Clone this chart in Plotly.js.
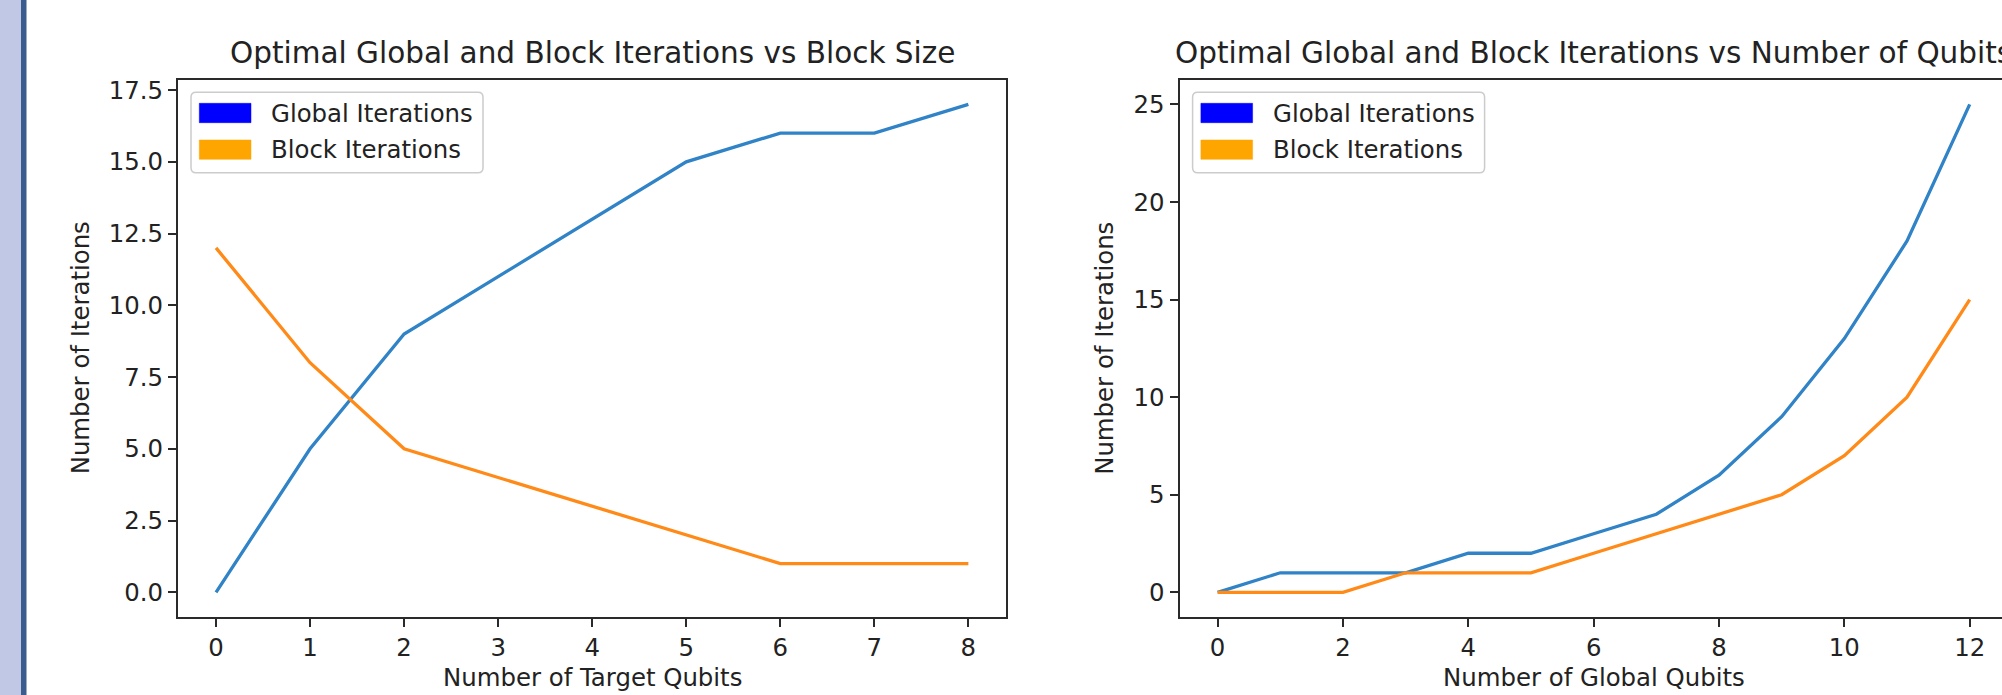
<!DOCTYPE html>
<html>
<head>
<meta charset="utf-8">
<script src="https://cdn.plot.ly/plotly-3.0.1.min.js"></script>
<style>html,body{margin:0;padding:0;background:#fff;}#chart{width:2002px;height:695px;}</style>
</head>
<body>
<div id="chart"></div>
<script>
// ---- data ----
const targetQubits = [0, 1, 2, 3, 4, 5, 6, 7, 8];
const globalItersBySize = [0, 5, 9, 11, 13, 15, 16, 16, 17];
const blockItersBySize = [12, 8, 5, 4, 3, 2, 1, 1, 1];

const globalQubits = [0, 1, 2, 3, 4, 5, 6, 7, 8, 9, 10, 11, 12];
const globalItersByQubits = [0, 1, 1, 1, 2, 2, 3, 4, 6, 9, 13, 18, 25];
const blockItersByQubits = [0, 0, 0, 1, 1, 1, 2, 3, 4, 5, 7, 10, 15];

const title1 = 'Optimal Global and Block Iterations vs Block Size';
const title2 = 'Optimal Global and Block Iterations vs Number of Qubits';
const xLabel1 = 'Number of Target Qubits';
const xLabel2 = 'Number of Global Qubits';
const yLabel = 'Number of Iterations';
const legendLabels = ['Global Iterations', 'Block Iterations'];
const legendColors = ['#0000ff', '#ffa500'];
const lineColors = ['#2f83c6', '#ff8a17'];

// ---- layout helpers (pixel -> paper) ----
const W = 2002, H = 695;
const px = x => x / W;
const py = y => 1 - y / H;
const FONT = 'DejaVu Sans, sans-serif';
const TXT = '#222222';

const ax1 = {l: 178.4, r: 1006, t: 80, b: 616.7};
const ax2 = {l: 1180, r: 2007.3, t: 80, b: 616.7};

const traces = [
  {x: targetQubits, y: globalItersBySize, xaxis: 'x', yaxis: 'y', mode: 'lines',
   line: {color: lineColors[0], width: 3.3}, showlegend: false, hoverinfo: 'x+y'},
  {x: targetQubits, y: blockItersBySize, xaxis: 'x', yaxis: 'y', mode: 'lines',
   line: {color: lineColors[1], width: 3.3}, showlegend: false, hoverinfo: 'x+y'},
  {x: globalQubits, y: globalItersByQubits, xaxis: 'x2', yaxis: 'y2', mode: 'lines',
   line: {color: lineColors[0], width: 3.3}, showlegend: false, hoverinfo: 'x+y'},
  {x: globalQubits, y: blockItersByQubits, xaxis: 'x2', yaxis: 'y2', mode: 'lines',
   line: {color: lineColors[1], width: 3.3}, showlegend: false, hoverinfo: 'x+y'}
];

const commonAxis = {
  showgrid: false, zeroline: false, showline: true, linecolor: '#2a2a2a', linewidth: 2,
  ticks: 'outside', ticklen: 8.5, tickwidth: 2, tickcolor: '#2a2a2a',
  tickfont: {family: FONT, size: 24.4, color: TXT}
};

// right axis data range cut at the page edge (axes extends past it)
const unit2 = (ax2.r - ax2.l) / 13.2;
const x2max = -0.6 + (W - ax2.l) / unit2;

const shapes = [
  // left window border of the screenshot
  {type: 'rect', xref: 'paper', yref: 'paper', x0: 0, x1: px(21), y0: 0, y1: 1,
   fillcolor: '#c1c8e6', line: {width: 0}, layer: 'below'},
  {type: 'rect', xref: 'paper', yref: 'paper', x0: px(21), x1: px(26.5), y0: 0, y1: 1,
   fillcolor: '#3b5d8e', line: {width: 0}, layer: 'below'}
];
const annotations = [];

function roundRectPath(x0, y0, x1, y1, r) {
  const X = v => px(v), Y = v => py(v);
  return `M ${X(x0 + r)} ${Y(y0)} L ${X(x1 - r)} ${Y(y0)} Q ${X(x1)} ${Y(y0)} ${X(x1)} ${Y(y0 + r)} ` +
         `L ${X(x1)} ${Y(y1 - r)} Q ${X(x1)} ${Y(y1)} ${X(x1 - r)} ${Y(y1)} ` +
         `L ${X(x0 + r)} ${Y(y1)} Q ${X(x0)} ${Y(y1)} ${X(x0)} ${Y(y1 - r)} ` +
         `L ${X(x0)} ${Y(y0 + r)} Q ${X(x0)} ${Y(y0)} ${X(x0 + r)} ${Y(y0)} Z`;
}

function addLegend(dx) {
  shapes.push({type: 'path', xref: 'paper', yref: 'paper',
    path: roundRectPath(191 + dx, 92.3, 483 + dx, 172.7, 5),
    fillcolor: 'rgba(255,255,255,0.8)', line: {color: '#cccccc', width: 1.5}});
  const rows = [[103.3, 122.7], [140, 159.3]];
  rows.forEach((r, i) => {
    shapes.push({type: 'rect', xref: 'paper', yref: 'paper',
      x0: px(199.3 + dx), x1: px(251 + dx), y0: py(r[1]), y1: py(r[0]),
      fillcolor: legendColors[i], line: {color: legendColors[i], width: 0.5}});
    annotations.push({xref: 'paper', yref: 'paper', x: px(269.3 + dx), y: py((r[0] + r[1]) / 2),
      xanchor: 'left', yanchor: 'middle', showarrow: false, text: legendLabels[i],
      font: {family: FONT, size: 24.4, color: TXT}});
  });
}
addLegend(0);
addLegend(ax2.l - ax1.l);

// titles and axis labels
annotations.push({xref: 'paper', yref: 'paper', x: px((ax1.l + ax1.r) / 2), y: py(53),
  xanchor: 'center', yanchor: 'middle', showarrow: false, text: title1,
  font: {family: FONT, size: 29.5, color: TXT}});
annotations.push({xref: 'paper', yref: 'paper', x: px((ax2.l + ax2.r) / 2), y: py(53),
  xanchor: 'center', yanchor: 'middle', showarrow: false, text: title2,
  font: {family: FONT, size: 29.5, color: TXT}});
annotations.push({xref: 'paper', yref: 'paper', x: px((ax1.l + ax1.r) / 2), y: py(677),
  xanchor: 'center', yanchor: 'middle', showarrow: false, text: xLabel1,
  font: {family: FONT, size: 24.4, color: TXT}});
annotations.push({xref: 'paper', yref: 'paper', x: px((ax2.l + ax2.r) / 2), y: py(677),
  xanchor: 'center', yanchor: 'middle', showarrow: false, text: xLabel2,
  font: {family: FONT, size: 24.4, color: TXT}});
annotations.push({xref: 'paper', yref: 'paper', x: px(80), y: py((ax1.t + ax1.b) / 2),
  xanchor: 'center', yanchor: 'middle', showarrow: false, text: yLabel, textangle: -90,
  font: {family: FONT, size: 24.4, color: TXT}});
annotations.push({xref: 'paper', yref: 'paper', x: px(1104.5), y: py((ax2.t + ax2.b) / 2),
  xanchor: 'center', yanchor: 'middle', showarrow: false, text: yLabel, textangle: -90,
  font: {family: FONT, size: 24.4, color: TXT}});

const layout = {
  width: W, height: H, autosize: false,
  margin: {l: 0, r: 0, t: 0, b: 0, pad: 0},
  paper_bgcolor: '#ffffff', plot_bgcolor: '#ffffff',
  showlegend: false,
  xaxis: Object.assign({}, commonAxis, {domain: [px(ax1.l), px(ax1.r)], range: [-0.4, 8.4],
    tickvals: targetQubits, mirror: true, anchor: 'y'}),
  yaxis: Object.assign({}, commonAxis, {domain: [py(ax1.b), py(ax1.t)], range: [-0.85, 17.85],
    tickvals: [0, 2.5, 5, 7.5, 10, 12.5, 15, 17.5], tickformat: '.1f', mirror: true, anchor: 'x'}),
  xaxis2: Object.assign({}, commonAxis, {domain: [px(ax2.l), 1], range: [-0.6, x2max],
    tickvals: [0, 2, 4, 6, 8, 10, 12], mirror: true, anchor: 'y2'}),
  yaxis2: Object.assign({}, commonAxis, {domain: [py(ax2.b), py(ax2.t)], range: [-1.25, 26.25],
    tickvals: [0, 5, 10, 15, 20, 25], mirror: false, anchor: 'x2'}),
  shapes: shapes,
  annotations: annotations
};

Plotly.newPlot('chart', traces, layout, {staticPlot: true, displayModeBar: false});
</script>
</body>
</html>
